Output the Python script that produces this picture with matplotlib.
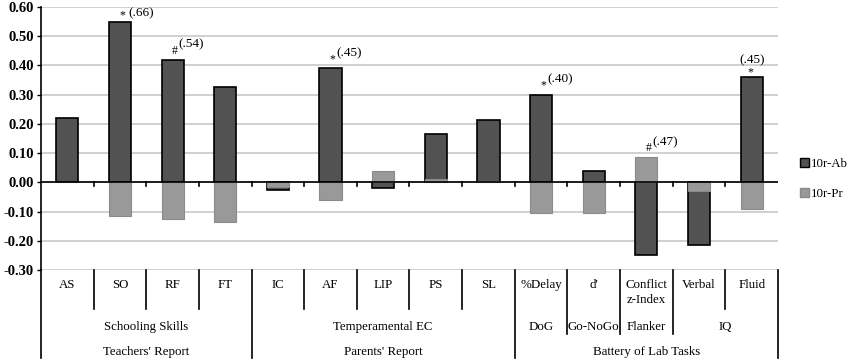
import numpy as np
import matplotlib.pyplot as plt
import matplotlib.transforms as mtransforms
from matplotlib.patches import Patch

plt.rcParams['font.family'] = ['Liberation Serif', 'DejaVu Serif']

# data
categories = ['AS', 'SO', 'RF', 'FT', 'IC', 'AF', 'LIP', 'PS', 'SL',
              '%Delay', "d'", 'Conflict\nz-Index', 'Verbal', 'Fluid']
ab = [0.22, 0.55, 0.42, 0.325, -0.025, 0.39, -0.02, 0.165, 0.215,
      0.30, 0.04, -0.25, -0.215, 0.36]
pr = [0.0, -0.115, -0.125, -0.135, -0.015, -0.06, 0.04, 0.01, 0.005,
      -0.105, -0.105, 0.085, -0.03, -0.09]
# (index, symbol, r-value, series)
notes = [(1, '*', '(.66)', 'ab'), (2, '#', '(.54)', 'ab'), (5, '*', '(.45)', 'ab'),
         (9, '*', '(.40)', 'ab'), (11, '#', '(.47)', 'pr'), (13, '*', '(.45)', 'ab')]
# row 2 groups: (label, first, last)
groups2 = [('Schooling Skills', 0, 3), ('Temperamental EC', 4, 8), ('DoG', 9, 9),
           ('Go-NoGo', 10, 10), ('Flanker', 11, 11), ('IQ', 12, 13)]
groups3 = [("Teachers' Report", 0, 3), ("Parents' Report", 4, 8),
           ('Battery of Lab Tasks', 9, 13)]

W, H = 851, 362
fig = plt.figure(figsize=(W / 100, H / 100), dpi=100)
ax = fig.add_axes([41 / W, 1 - 270 / H, (778 - 41) / W, (270 - 7) / H])

x = np.arange(len(categories))
dark = '#525252'
light = '#999999'
ax.bar(x, ab, width=0.42, color=dark, edgecolor='black', linewidth=1.2, zorder=3)
ax.bar(x, pr, width=0.42, color=light, edgecolor='#8a8a8a', linewidth=0.8, zorder=4)

ax.set_xlim(-0.5, len(categories) - 0.5)
ax.set_ylim(-0.30, 0.60)
yt = np.arange(-0.3, 0.61, 0.1)
ax.set_yticks(yt)
ax.set_yticklabels(['%.2f' % v for v in yt], fontsize=10.5, fontweight='bold')
ax.yaxis.grid(True, color='#c8c8c8', linewidth=1.2, zorder=0)
ax.set_axisbelow(True)
ax.tick_params(axis='y', length=3, width=1, pad=2)
for s in ['top', 'right', 'bottom']:
    ax.spines[s].set_visible(False)
ax.spines['left'].set_linewidth(1.2)
ax.set_xticks([])
ax.axhline(0, color='black', linewidth=1.2, zorder=5)
for b in np.arange(0.5, len(categories) - 1, 1.0):
    ax.plot([b, b], [-0.014, 0.0], color='black', linewidth=1.2, zorder=5, clip_on=False)

# significance notes
for i, sym, r, s in notes:
    top = ab[i] if s == 'ab' else pr[i]
    if i == 13:
        ax.annotate(sym, (x[i], top), xytext=(-1, 5), textcoords='offset pixels',
                    ha='center', va='center', fontsize=8.5)
        ax.annotate(r, (x[i], top), xytext=(0, 17), textcoords='offset pixels',
                    ha='center', va='center', fontsize=9.5)
    elif i == 1:
        ax.annotate(sym, (x[i], top), xytext=(2, 6), textcoords='offset pixels',
                    ha='center', va='center', fontsize=8.5)
        ax.annotate(r, (x[i], top), xytext=(8, 8), textcoords='offset pixels',
                    ha='left', va='center', fontsize=9.5)
    else:
        ax.annotate(sym, (x[i], top), xytext=(2, 9), textcoords='offset pixels',
                    ha='center', va='center', fontsize=8.5)
        ax.annotate(r, (x[i], top), xytext=(6, 15), textcoords='offset pixels',
                    ha='left', va='center', fontsize=9.5)

# category table below axis
tr = mtransforms.blended_transform_factory(ax.transData, fig.transFigure)
def fy(py):
    return 1 - py / H

for i, c in enumerate(categories):
    ax.text(x[i], fy(279), c, transform=tr, ha='center', va='top',
            fontsize=9.3, linespacing=1.3)
for lab, a, b in groups2:
    ax.text((a + b) / 2, fy(327), lab, transform=tr, ha='center', va='center', fontsize=9.3)
for lab, a, b in groups3:
    ax.text((a + b) / 2, fy(352), lab, transform=tr, ha='center', va='center', fontsize=9.3)

# separator lines
full = [-0.5, 3.5, 8.5, 13.5]
mid = [9.5, 10.5, 11.5]
for k in np.arange(-0.5, len(categories), 1.0):
    if k in full:
        y1 = 358
    elif k in mid:
        y1 = 334
    else:
        y1 = 309
    ax.plot([k, k], [fy(270), fy(y1)], transform=tr, color='black',
            linewidth=1.2, clip_on=False)

handles = [Patch(facecolor=dark, edgecolor='black', label='10r-Ab'),
           Patch(facecolor=light, edgecolor='#8a8a8a', label='10r-Pr')]
fig.legend(handles=handles, loc='center left', bbox_to_anchor=(788 / W, fy(179)),
           frameon=False, fontsize=9.3, handlelength=0.7, handleheight=0.7,
           handletextpad=0.2, labelspacing=1.4)

fig.savefig('out.png', dpi=100)
